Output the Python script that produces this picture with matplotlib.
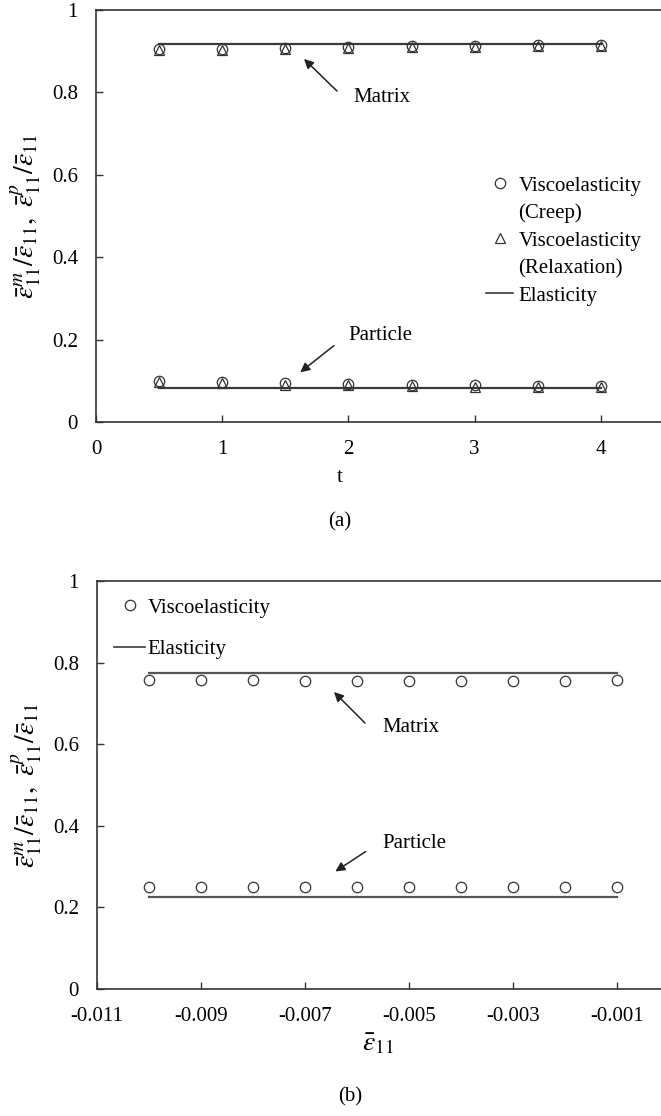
import matplotlib
matplotlib.use('Agg')
import matplotlib.pyplot as plt
from matplotlib.lines import Line2D
from matplotlib.patches import FancyArrowPatch

plt.rcParams['font.family'] = ['Liberation Serif', 'DejaVu Serif']
plt.rcParams['mathtext.fontset'] = 'stix'

W, H = 661, 1116

############ (a) data: strain ratio vs time ############
t = [0.5, 1.0, 1.5, 2.0, 2.5, 3.0, 3.5, 4.0]
creep_matrix = [0.905, 0.905, 0.908, 0.910, 0.912, 0.913, 0.914, 0.915]
relax_matrix = [0.902, 0.903, 0.905, 0.908, 0.910, 0.911, 0.912, 0.913]
elastic_matrix = [0.918] * 8
creep_particle = [0.099, 0.097, 0.094, 0.092, 0.090, 0.089, 0.088, 0.087]
relax_particle = [0.096, 0.094, 0.091, 0.089, 0.087, 0.086, 0.085, 0.084]
elastic_particle = [0.083] * 8

############ (b) data: strain ratio vs applied strain ############
strain = [-0.010, -0.009, -0.008, -0.007, -0.006, -0.005, -0.004, -0.003, -0.002, -0.001]
visco_matrix_b = [0.757, 0.757, 0.757, 0.755, 0.755, 0.755, 0.755, 0.755, 0.755, 0.757]
elastic_matrix_b = [0.775] * 10
visco_particle_b = [0.25] * 10
elastic_particle_b = [0.225] * 10

xticks_a = [0, 1, 2, 3, 4]
xticks_b = [-0.011, -0.009, -0.007, -0.005, -0.003, -0.001]
xticklabels_b = ['-0.011', '-0.009', '-0.007', '-0.005', '-0.003', '-0.001']
yticks = [0, 0.2, 0.4, 0.6, 0.8, 1.0]
yticklabels = ['0', '0.2', '0.4', '0.6', '0.8', '1']

ylab = r'$\bar{\varepsilon}^{m}_{11}/\bar{\varepsilon}_{11},\ \bar{\varepsilon}^{p}_{11}/\bar{\varepsilon}_{11}$'


def fx(x):
    return x / W


def fy(y):
    return 1 - y / H


fig = plt.figure(figsize=(W / 100, H / 100), dpi=100)

# axes boxes in pixels (right side runs past the image edge, as in the original)
ax1 = fig.add_axes([fx(96), fy(422), fx(664 - 96), (422 - 10) / H])
ax2 = fig.add_axes([fx(97), fy(989), fx(721 - 97), (989 - 581) / H])

lc = '#3a3a3a'
mk = dict(markersize=7.5, markerfacecolor='none', markeredgecolor='#333333',
          markeredgewidth=0.9, linestyle='none')

# ---- (a)
ax1.plot(t, elastic_matrix, color=lc, lw=1.6)
ax1.plot(t, elastic_particle, color=lc, lw=1.6)
ax1.plot(t, creep_matrix, marker='o', **mk)
ax1.plot(t, relax_matrix, marker='^', **mk)
ax1.plot(t, creep_particle, marker='o', **mk)
ax1.plot(t, relax_particle, marker='^', **mk)
ax1.set_xlim(0, 4.5)
ax1.set_ylim(0, 1)
ax1.set_xticks(xticks_a)
ax1.set_xticklabels([str(v) for v in xticks_a])

# ---- (b)
ax2.plot(strain, elastic_matrix_b, color='#555555', lw=1.6)
ax2.plot(strain, elastic_particle_b, color='#555555', lw=1.6)
ax2.plot(strain, visco_matrix_b, marker='o', **mk)
ax2.plot(strain, visco_particle_b, marker='o', **mk)
ax2.set_xlim(-0.011, 0.001)
ax2.set_ylim(0, 1)
ax2.set_xticks(xticks_b)
ax2.set_xticklabels(xticklabels_b)

for ax in (ax1, ax2):
    ax.set_yticks(yticks)
    ax.set_yticklabels(yticklabels)
    ax.tick_params(direction='in', length=5, width=1, labelsize=15, color='#333333')
    ax.tick_params(axis='y', pad=13)
    ax.tick_params(axis='x', pad=13)
    for s in ax.spines.values():
        s.set_color('#333333')
        s.set_linewidth(1.2)
    ax.set_ylabel(ylab, fontsize=20)
    ax.yaxis.set_label_coords(fx(44 - 96) / ax.get_position().width, 0.5)

# axis titles and panel labels
fig.text(fx(340), fy(478), 't', fontsize=15, ha='center', va='center')
fig.text(fx(340), fy(522), '(a)', fontsize=15, ha='center', va='center')
fig.text(fx(378), fy(1044), r'$\bar{\varepsilon}_{11}$', fontsize=20, ha='center', va='center')
fig.text(fx(350), fy(1097), '(b)', fontsize=15, ha='center', va='center')

# annotations: text position, arrow tail, arrow head (pixels)
arrow = dict(arrowstyle='-|>', color='#222222', lw=1.1, mutation_scale=14)
ann = [((353, 98), (339, 93), (302, 57)),
       ((348, 335), (336, 344), (298, 374)),
       ((382, 727), (367, 725), (332, 690)),
       ((382, 843), (368, 850), (333, 873))]
names = ['Matrix', 'Particle', 'Matrix', 'Particle']
for (txt, tail, head), name in zip(ann, names):
    fig.text(fx(txt[0]), fy(txt[1]), name, fontsize=15, ha='left', va='center')
    fig.add_artist(FancyArrowPatch((fx(tail[0]), fy(tail[1])), (fx(head[0]), fy(head[1])),
                                   transform=fig.transFigure, **arrow))

# legends
h_c = Line2D([], [], marker='o', **mk)
h_t = Line2D([], [], marker='^', **mk)
h_l = Line2D([], [], color=lc, lw=1.2)
h_n = Line2D([], [], linestyle='none')
ax1.legend([h_c, h_n, h_t, h_n, h_l],
           ['Viscoelasticity', '(Creep)', 'Viscoelasticity', '(Relaxation)', 'Elasticity'],
           loc='upper left', bbox_to_anchor=(fx(486), fy(176)), bbox_transform=fig.transFigure,
           frameon=False, fontsize=15, borderpad=0, borderaxespad=0,
           handlelength=1.3, handletextpad=0.25, labelspacing=0.38)
ax2.legend([h_c, h_l], ['Viscoelasticity', 'Elasticity'],
           loc='upper left', bbox_to_anchor=(fx(114), fy(598)), bbox_transform=fig.transFigure,
           frameon=False, fontsize=15, borderpad=0, borderaxespad=0,
           handlelength=1.5, handletextpad=0.1, labelspacing=1.06)

fig.savefig('out.png', dpi=100)
